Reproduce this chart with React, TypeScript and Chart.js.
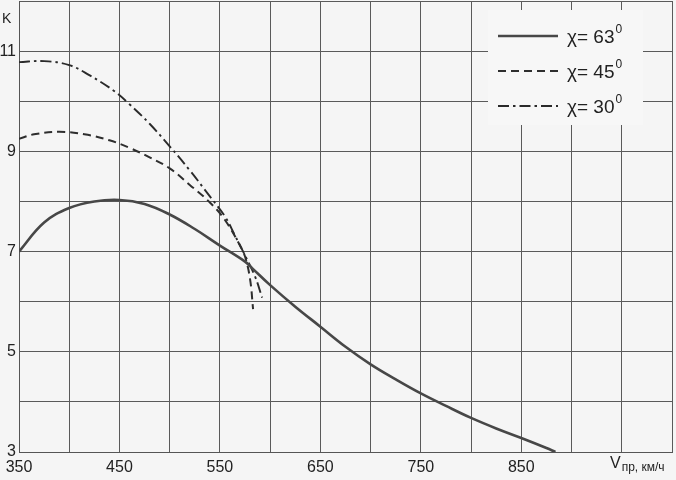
import React, { useEffect, useRef } from "react";
import { Chart, registerables } from "chart.js";

Chart.register(...registerables);

// Speed, km/h
const speed63 = [350, 375, 400, 425, 450, 475, 500, 525, 550, 575, 582, 600, 625, 650, 675, 700, 725, 750, 775, 800, 825, 850, 875, 884];
const k63 = [7.0, 7.58, 7.87, 8.0, 8.03, 7.95, 7.74, 7.45, 7.12, 6.8, 6.67, 6.33, 5.9, 5.5, 5.1, 4.75, 4.45, 4.17, 3.92, 3.68, 3.47, 3.28, 3.08, 3.0];

const speed45 = [350, 365, 390, 415, 440, 460, 480, 500, 520, 540, 555, 570, 575, 580, 583];
const k45 = [9.25, 9.34, 9.39, 9.34, 9.22, 9.07, 8.88, 8.66, 8.33, 7.98, 7.63, 7.12, 6.9, 6.45, 5.85];

const speed30 = [350, 375, 400, 420, 445, 460, 480, 500, 520, 540, 555, 565, 575, 585, 592];
const k30 = [10.78, 10.8, 10.72, 10.52, 10.2, 9.94, 9.55, 9.1, 8.62, 8.1, 7.7, 7.32, 6.92, 6.5, 6.08];

const seriesLabels = ["χ= 63", "χ= 45", "χ= 30"];
const xTickLabels = [350, 450, 550, 650, 750, 850];
const yTickLabels = [3, 5, 7, 9, 11];

const FONT = '"Liberation Sans", Arial, sans-serif';
const styles = [
  { color: "#474747", width: 2.6, dash: [] as number[] },
  { color: "#2e2e2e", width: 2, dash: [8, 5] },
  { color: "#2a2a2a", width: 1.9, dash: [11, 4, 2.5, 4] },
];

const toPoints = (xs: number[], ys: number[]) => xs.map((x, i) => ({ x, y: ys[i] }));

const decorPlugin = {
  id: "decor",
  beforeDraw(chart: any) {
    const ctx = chart.ctx;
    ctx.save();
    ctx.fillStyle = "#f5f5f5";
    ctx.fillRect(0, 0, chart.width, chart.height);
    ctx.restore();
  },
  afterDraw(chart: any) {
    const ctx = chart.ctx;
    ctx.save();
    // legend box
    ctx.fillStyle = "#f7f7f7";
    ctx.fillRect(488, 10, 155, 115);
    const rows = [36, 71, 106];
    seriesLabels.forEach((lab, i) => {
      const y = rows[i];
      const s = styles[i];
      ctx.strokeStyle = s.color;
      ctx.lineWidth = s.width;
      ctx.setLineDash(s.dash);
      ctx.beginPath();
      ctx.moveTo(498, y);
      ctx.lineTo(558, y);
      ctx.stroke();
      ctx.setLineDash([]);
      ctx.fillStyle = "#222";
      ctx.textBaseline = "alphabetic";
      ctx.textAlign = "left";
      ctx.font = `19px ${FONT}`;
      ctx.fillText(lab, 567, y + 7);
      const w = ctx.measureText(lab).width;
      ctx.font = `12px ${FONT}`;
      ctx.fillText("0", 567 + w + 1, y - 3);
    });
    // axis titles
    ctx.fillStyle = "#222";
    ctx.textAlign = "left";
    ctx.textBaseline = "alphabetic";
    ctx.font = `14px ${FONT}`;
    ctx.fillText("K", 2, 23);
    ctx.font = `16px ${FONT}`;
    ctx.fillText("V", 610, 468);
    const vw = ctx.measureText("V").width;
    ctx.font = `12px ${FONT}`;
    ctx.fillText("пр, км/ч", 610 + vw + 1, 471);
    ctx.restore();
  },
};

export default function App() {
  const ref = useRef<HTMLCanvasElement>(null);
  useEffect(() => {
    if (!ref.current) return;
    const datasets = [
      toPoints(speed63, k63),
      toPoints(speed45, k45),
      toPoints(speed30, k30),
    ].map((data, i) => ({
      label: seriesLabels[i],
      data,
      borderColor: styles[i].color,
      borderWidth: styles[i].width,
      borderDash: styles[i].dash,
      pointRadius: 0,
      fill: false,
      tension: 0.4,
    }));
    const chart = new Chart(ref.current, {
      type: "line",
      data: { datasets },
      options: {
        animation: false,
        responsive: false,
        devicePixelRatio: 1,
        layout: { padding: { top: 1, right: 4, left: 0, bottom: 0 } },
        plugins: { legend: { display: false }, tooltip: { enabled: false } },
        scales: {
          x: {
            type: "linear",
            min: 350,
            max: 1000,
            afterFit: (s: any) => {
              s.height = 28;
              s.paddingLeft = 0;
              s.paddingRight = 0;
            },
            border: { color: "#555", width: 1 },
            grid: { color: "#5a5a5a", lineWidth: 1, drawTicks: false },
            ticks: {
              stepSize: 50,
              padding: 6,
              autoSkip: false,
              maxRotation: 0,
              color: "#222",
              font: { family: FONT, size: 16 },
              callback: (v: any) => (xTickLabels.includes(Number(v)) ? String(v) : ""),
            },
          },
          y: {
            min: 3,
            max: 12,
            afterFit: (s: any) => {
              s.width = 19;
              s.paddingTop = 0;
              s.paddingBottom = 0;
            },
            border: { color: "#555", width: 1 },
            grid: { color: "#5a5a5a", lineWidth: 1, drawTicks: false },
            ticks: {
              stepSize: 1,
              padding: 3,
              autoSkip: false,
              color: "#222",
              font: { family: FONT, size: 16 },
              callback: (v: any) => (yTickLabels.includes(Number(v)) ? String(v) : ""),
            },
          },
        },
      },
      plugins: [decorPlugin],
    });
    return () => chart.destroy();
  }, []);
  return (
    <div style={{ position: "fixed", left: 0, top: 0, width: 676, height: 480 }}>
      <canvas ref={ref} width={676} height={480} />
    </div>
  );
}
